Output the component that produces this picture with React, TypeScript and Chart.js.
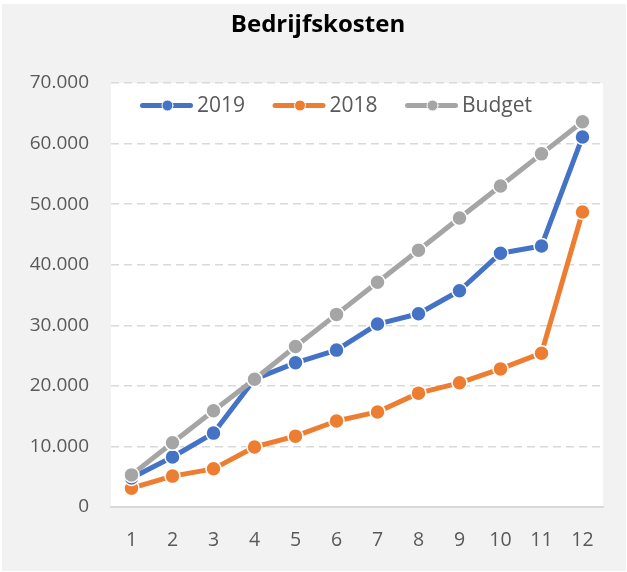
import React, { useEffect, useRef } from "react";
import { Chart, registerables } from "chart.js";

Chart.register(...registerables);

const categories = ["1", "2", "3", "4", "5", "6", "7", "8", "9", "10", "11", "12"];
const values2019 = [4800, 8250, 12200, 21100, 23800, 25900, 30200, 31900, 35700, 41900, 43100, 61100];
const values2018 = [3100, 5100, 6300, 9900, 11700, 14200, 15700, 18800, 20500, 22800, 25400, 48700];
const valuesBudget = [5300, 10600, 15900, 21100, 26500, 31800, 37100, 42400, 47700, 53000, 58300, 63600];
const yTickMax = 70000;
const yTickStep = 10000;

const BLUE = "#4472C4";
const ORANGE = "#ED7D31";
const GRAY = "#A5A5A5";
const TEXT = "#595959";
const FONT = '"Open Sans", "Noto Sans", sans-serif';

const fmt = (v: number) => String(v).replace(/\B(?=(\d{3})+(?!\d))/g, ".");

const legendItems = [
  { label: "2019", color: BLUE },
  { label: "2018", color: ORANGE },
  { label: "Budget", color: GRAY },
];

const decorPlugin = {
  id: "decor",
  beforeDraw(chart: any) {
    const { ctx, width, height, chartArea } = chart;
    ctx.save();
    ctx.fillStyle = "#ffffff";
    ctx.fillRect(0, 0, width, height);
    ctx.fillStyle = "#f2f2f2";
    ctx.fillRect(2, 4, width - 3, height - 5);
    ctx.fillStyle = "#ffffff";
    ctx.fillRect(chartArea.left, chartArea.top, chartArea.right - chartArea.left, chartArea.bottom - chartArea.top);
    ctx.fillStyle = "#000000";
    ctx.font = `bold 24px ${FONT}`;
    ctx.textAlign = "center";
    ctx.textBaseline = "middle";
    ctx.fillText("Bedrijfskosten", 318, 25);
    ctx.restore();
  },
  afterDraw(chart: any) {
    const { ctx, chartArea } = chart;
    ctx.save();
    ctx.font = `21px ${FONT}`;
    ctx.textBaseline = "middle";
    ctx.textAlign = "left";
    let x = chartArea.left + 29;
    const y = chartArea.top + 22.5;
    for (const it of legendItems) {
      ctx.strokeStyle = it.color;
      ctx.lineWidth = 5;
      ctx.lineCap = "round";
      ctx.beginPath();
      ctx.moveTo(x + 2.5, y);
      ctx.lineTo(x + 50.5, y);
      ctx.stroke();
      ctx.beginPath();
      ctx.arc(x + 27.5, y, 5.5, 0, Math.PI * 2);
      ctx.fillStyle = it.color;
      ctx.fill();
      ctx.lineWidth = 1;
      ctx.strokeStyle = "#ffffff";
      ctx.stroke();
      ctx.fillStyle = TEXT;
      ctx.fillText(it.label, x + 57, y + 1);
      x += 57 + ctx.measureText(it.label).width + 27.5;
    }
    ctx.restore();
  },
};

function ds(label: string, data: number[], color: string, order: number) {
  return {
    label,
    data,
    borderColor: color,
    backgroundColor: color,
    borderWidth: 5,
    borderCapStyle: "round",
    borderJoinStyle: "round",
    pointRadius: 7.5,
    pointBorderWidth: 1.5,
    pointBorderColor: "#ffffff",
    pointBackgroundColor: color,
    tension: 0,
    order,
  };
}

export default function App() {
  const ref = useRef<HTMLCanvasElement | null>(null);
  useEffect(() => {
    document.body.style.margin = "0";
    if (!ref.current) return;
    const chart = new Chart(ref.current, {
      type: "line",
      data: {
        labels: categories,
        datasets: [
          ds("2019", values2019, BLUE, 1),
          ds("2018", values2018, ORANGE, 2),
          ds("Budget", valuesBudget, GRAY, 0),
        ] as any,
      },
      options: {
        animation: false,
        responsive: false,
        layout: { padding: { top: 83, right: 24, left: 0, bottom: 0 } },
        plugins: {
          legend: { display: false },
          title: { display: false },
          tooltip: { enabled: false },
        },
        scales: {
          x: {
            offset: true,
            grid: { display: false, drawTicks: false },
            border: { display: true, color: "#d9d9d9", width: 2 },
            ticks: { color: TEXT, font: { family: FONT, size: 19.5 }, padding: 22, maxRotation: 0, autoSkip: false },
            afterFit: (s: any) => {
              s.height = 65;
            },
          },
          y: {
            min: 0,
            max: yTickMax,
            grid: {
              color: (c: any) => (c.tick && c.tick.value === 0 ? "rgba(0,0,0,0)" : "#d9d9d9"),
              lineWidth: 1.5,
              drawTicks: false,
            },
            border: { display: false, dash: [8, 5] },
            ticks: {
              stepSize: yTickStep,
              color: TEXT,
              font: { family: FONT, size: 19 },
              padding: 22,
              callback: (v: any) => fmt(Number(v)),
            },
            afterFit: (s: any) => {
              s.width = 111;
            },
          },
        },
      } as any,
      plugins: [decorPlugin],
    });
    return () => chart.destroy();
  }, []);
  return (
    <div style={{ width: 627, height: 572 }}>
      <canvas ref={ref} width={627} height={572} style={{ display: "block" }} />
    </div>
  );
}
